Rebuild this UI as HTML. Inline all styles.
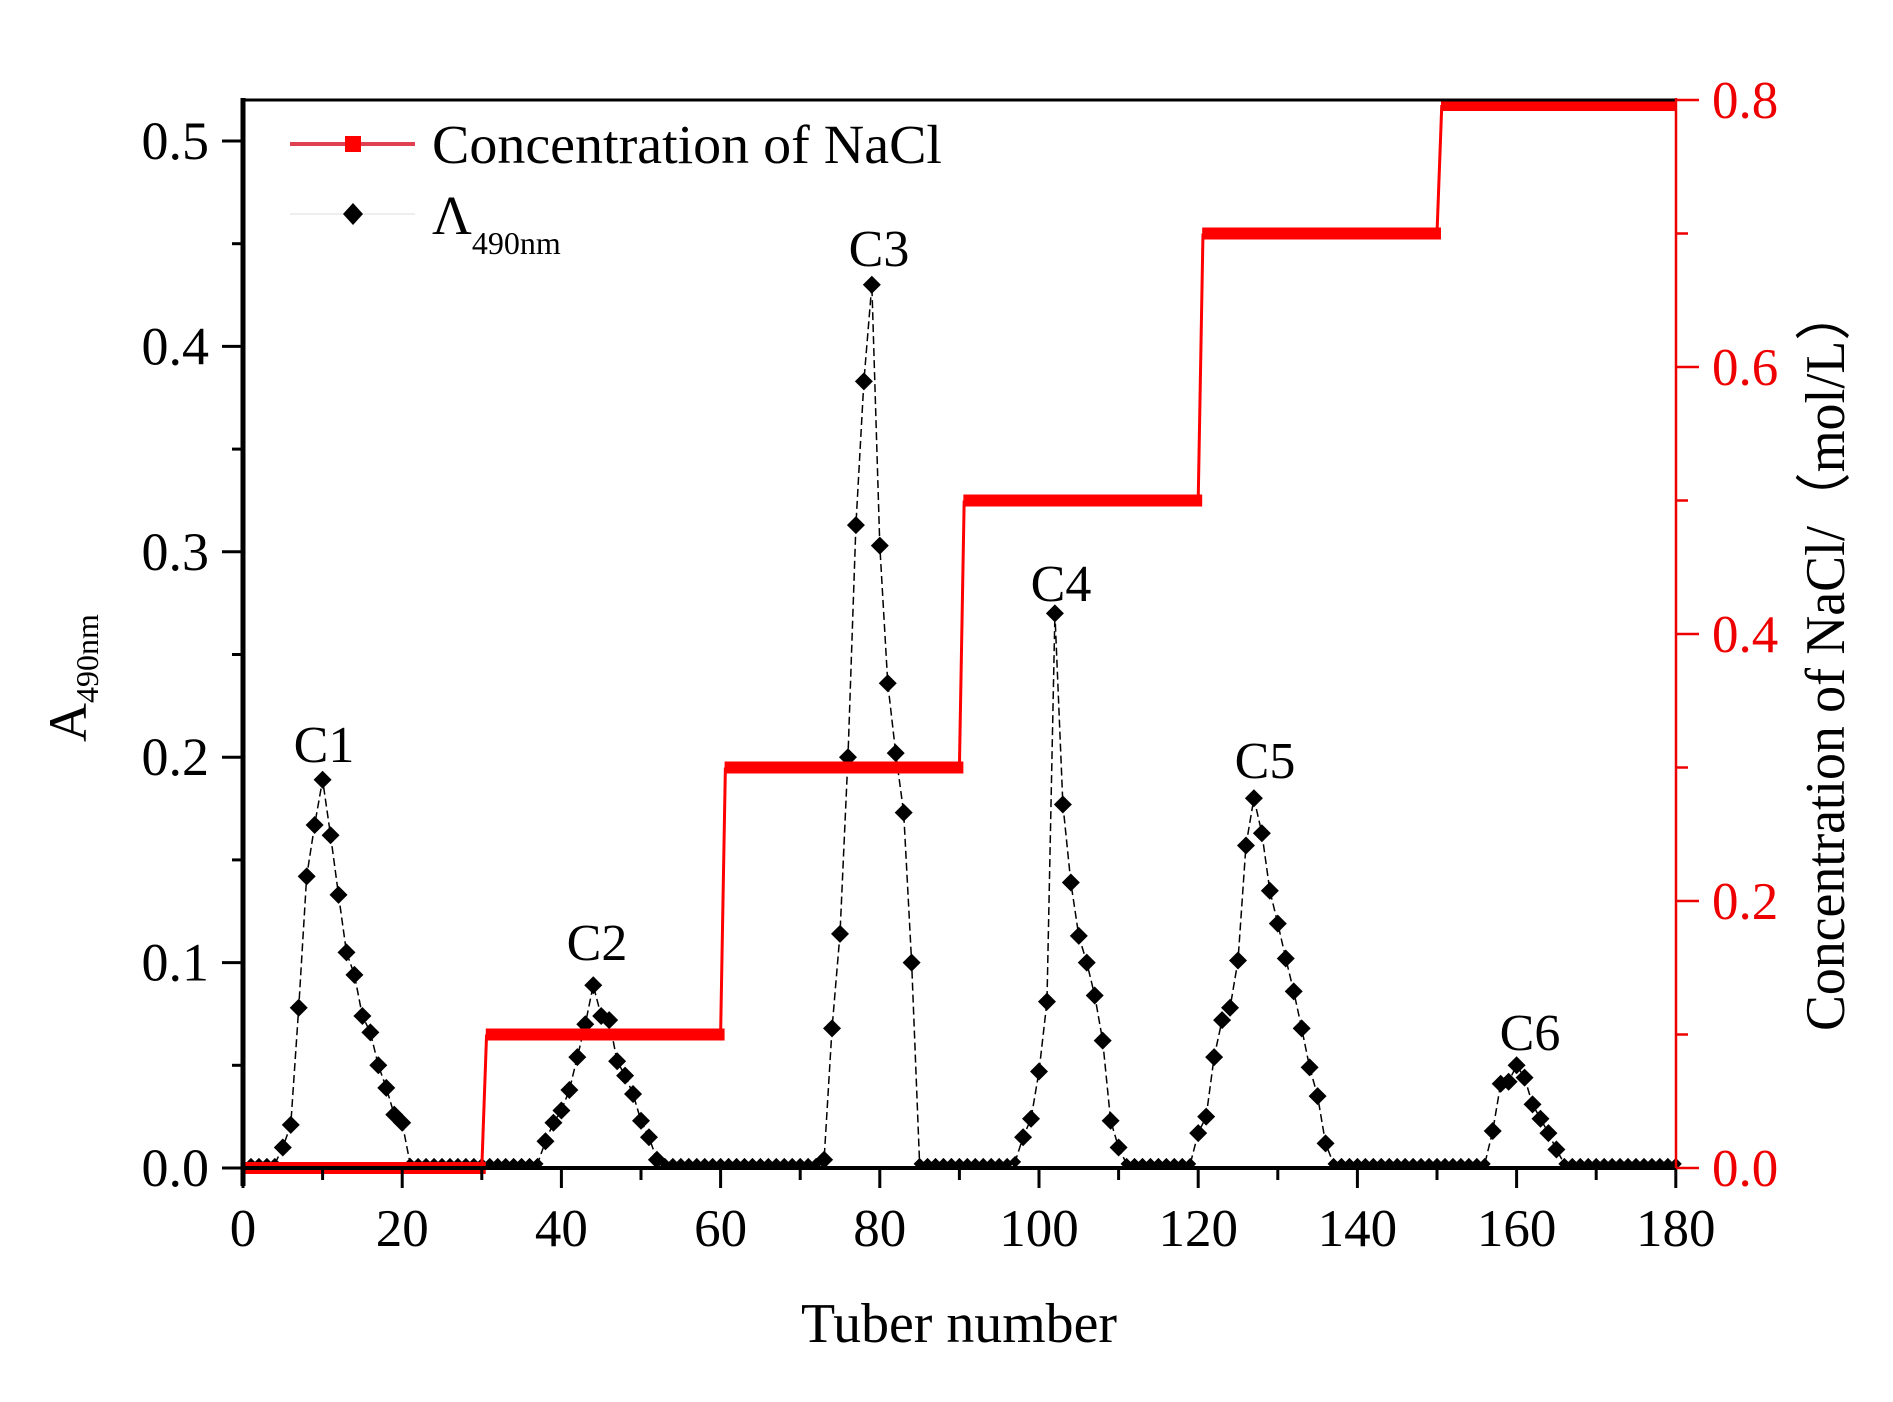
<!DOCTYPE html>
<html><head><meta charset="utf-8"><style>
html,body{margin:0;padding:0;background:#fff;}
svg{display:block;font-family:"Liberation Serif",serif;}
</style></head><body>
<svg id="s" width="1893" height="1402" viewBox="0 0 1893 1402" xmlns="http://www.w3.org/2000/svg">
<rect width="1893" height="1402" fill="#fff"/>
<g id="data"></g>
<line x1="243" y1="100" x2="1676" y2="100" stroke="#000" stroke-width="3"/>
<line x1="243" y1="98" x2="243" y2="1186" stroke="#000" stroke-width="5"/>
<line x1="241" y1="1168" x2="1676" y2="1168" stroke="#000" stroke-width="4"/>
<line x1="1676" y1="98" x2="1676" y2="1168" stroke="#e00" stroke-width="2.5"/>
<g id="ticks"></g>
<g font-size="54" fill="#000" text-anchor="end" id="ylab"></g>
<g font-size="53" fill="#000" text-anchor="middle" id="xlab"></g>
<g font-size="53" fill="#e00" text-anchor="start" id="rlab"></g>
<text x="959" y="1342" font-size="56" text-anchor="middle" textLength="316" lengthAdjust="spacingAndGlyphs">Tuber number</text>
<text transform="translate(1844,659) rotate(-90)" font-size="56" text-anchor="middle" textLength="744" lengthAdjust="spacingAndGlyphs">Concentration of NaCl/（mol/L）</text>
<text transform="translate(86,742) rotate(-90)" font-size="54">A<tspan font-size="32" dy="12">490nm</tspan></text>
<line x1="290" y1="144" x2="415" y2="144" stroke="#e04050" stroke-width="4"/>
<rect x="345" y="136" width="16" height="16" fill="#f00"/>
<text x="432" y="163" font-size="55" textLength="510" lengthAdjust="spacingAndGlyphs">Concentration of NaCl</text>
<line x1="290" y1="214" x2="415" y2="214" stroke="#eee" stroke-width="2"/>
<path d="M353 203 L363 214 L353 225 L343 214 Z" fill="#000"/>
<text x="432" y="234" font-size="55">Λ<tspan font-size="32" dy="20">490nm</tspan></text>
<g font-size="52" text-anchor="middle" fill="#000">
<text x="324" y="762">C1</text>
<text x="597" y="960">C2</text>
<text x="879" y="266">C3</text>
<text x="1061" y="601">C4</text>
<text x="1265" y="778">C5</text>
<text x="1530" y="1050">C6</text>
</g>
</svg>
<script>
const NS="http://www.w3.org/2000/svg";
const X=t=>243+t*7.96, Y=a=>1168-a*2054, YR=c=>1168-c*1335;
function el(p,tag,at,txt){const e=document.createElementNS(NS,tag);for(const k in at)e.setAttribute(k,at[k]);if(txt!==undefined)e.textContent=txt;p.appendChild(e);return e;}
const peaks={5:.01,6:.021,7:.078,8:.142,9:.167,10:.189,11:.162,12:.133,13:.105,14:.094,15:.074,16:.066,17:.05,18:.039,19:.026,20:.022,
38:.013,39:.022,40:.028,41:.038,42:.054,43:.07,44:.089,45:.074,46:.072,47:.052,48:.045,49:.036,50:.023,51:.015,52:.004,
73:.004,74:.068,75:.114,76:.2,77:.313,78:.383,79:.43,80:.303,81:.236,82:.202,83:.173,84:.1,
97:.003,98:.015,99:.024,100:.047,101:.081,102:.27,103:.177,104:.139,105:.113,106:.1,107:.084,108:.062,109:.023,110:.01,
120:.017,121:.025,122:.054,123:.072,124:.078,125:.101,126:.157,127:.18,128:.163,129:.135,130:.119,131:.102,132:.086,133:.068,134:.049,135:.035,136:.012,
157:.018,158:.041,159:.042,160:.05,161:.044,162:.031,163:.024,164:.017,165:.009};
const d=document.getElementById("data");
let pts=[];for(let t=1;t<=180;t++){pts.push([X(t),Y(peaks[t]||0.002)]);}
el(d,"polyline",{points:pts.map(p=>p.join(",")).join(" "),fill:"none",stroke:"#000","stroke-width":1.5,"stroke-dasharray":"8,4"});
pts.forEach(([x,y])=>{const r=(y>1160)?6:9;el(d,"path",{d:`M${x} ${y-r} L${x+r} ${y} L${x} ${y+r} L${x-r} ${y} Z`,fill:"#000"});});
const lv=[0,.1,.3,.5,.7,.8];
for(let i=0;i<6;i++){const x0=i==0?0:30*i+0.5,x1=i==5?180:30*(i+1)+0.5;const yy=YR(lv[i])+(i==5?5:0);
el(d,"line",{x1:X(x0),y1:yy,x2:X(x1),y2:yy,stroke:"#f00","stroke-width":12});
if(i>0)el(d,"line",{x1:X(30*i),y1:YR(lv[i-1]),x2:X(30*i+0.6),y2:yy,stroke:"#f00","stroke-width":3});}
const tk=document.getElementById("ticks");
for(let v=0;v<=0.5001;v+=0.05){const y=Y(v),maj=Math.round(v*100)%10==0;el(tk,"line",{x1:maj?222:232,y1:y,x2:243,y2:y,stroke:"#000","stroke-width":3});}
for(let t=0;t<=180;t+=10){const x=X(t),maj=t%20==0;el(tk,"line",{x1:x,y1:1168,x2:x,y2:maj?1188:1180,stroke:"#000","stroke-width":3});}
for(let c=0;c<=0.8001;c+=0.1){const y=YR(c),maj=Math.round(c*10)%2==0;el(tk,"line",{x1:1676,y1:y,x2:maj?1699:1688,y2:y,stroke:"#e00","stroke-width":2.5});}
const yl=document.getElementById("ylab");for(let i=0;i<=5;i++)el(yl,"text",{x:209,y:Y(i/10)+18},(i/10).toFixed(1));
const xl=document.getElementById("xlab");for(let t=0;t<=180;t+=20)el(xl,"text",{x:X(t),y:1246},t);
const rl=document.getElementById("rlab");for(let i=0;i<=4;i++)el(rl,"text",{x:1712,y:YR(i*0.2)+18},(i*0.2).toFixed(1));
</script>
</body></html>
